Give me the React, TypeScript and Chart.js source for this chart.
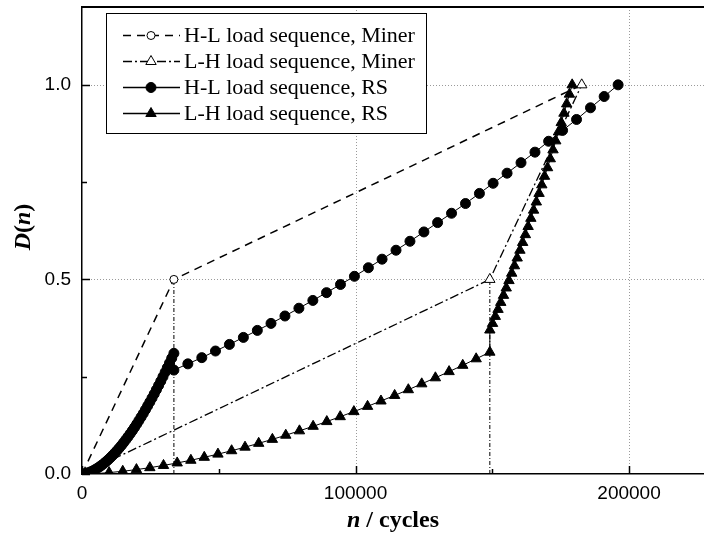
import { useEffect, useRef } from "react";
import { Chart, registerables } from "chart.js";

Chart.register(...registerables);

const SERIES_LABELS = [
  "H-L load sequence, Miner",
  "L-H load sequence, Miner",
  "H-L load sequence, RS",
  "L-H load sequence, RS",
];

// Miner's linear damage rule (both orders reach D = 1 at the same life)
const hlMinerCycles = [0, 33600, 182700];
const hlMinerDamage = [0, 0.5, 1.0];
const lhMinerCycles = [0, 149100, 182700];
const lhMinerDamage = [0, 0.5, 1.0];

// RS model, high load first
const hlRsHighCycles = [
  0, 800, 1600, 2400, 3200, 4000, 4800, 5600, 6400, 7200, 8000, 8800, 9600, 10400, 11200, 12000,
  12800, 13600, 14400, 15200, 16000, 16800, 17600, 18400, 19200, 20000, 20800, 21600, 22400, 23200,
  24000, 24800, 25600, 26400, 27200, 28000, 28800, 29600, 30400, 31200, 32000, 32800, 33600,
];
const hlRsHighDamage = [
  0, 0.0005, 0.0018, 0.0035, 0.0057, 0.0083, 0.0114, 0.0147, 0.0185, 0.0226, 0.027, 0.0318, 0.0368,
  0.0422, 0.0479, 0.0539, 0.0601, 0.0666, 0.0734, 0.0805, 0.0878, 0.0954, 0.1033, 0.1114, 0.1197,
  0.1283, 0.1372, 0.1463, 0.1556, 0.1652, 0.175, 0.185, 0.1952, 0.2057, 0.2165, 0.2274, 0.2385,
  0.2499, 0.2615, 0.2733, 0.2853, 0.2976, 0.31,
];
const hlRsLowCycles = [
  33600, 38700, 43800, 48800, 53900, 59000, 64100, 69100, 74200, 79300, 84400, 89400, 94500, 99600,
  104700, 109700, 114800, 119900, 125000, 130000, 135100, 140200, 145300, 150300, 155400, 160500,
  165600, 170600, 175700, 180800, 185900, 190900, 196000,
];
const hlRsLowDamage = [
  0.267, 0.283, 0.299, 0.316, 0.333, 0.351, 0.369, 0.387, 0.406, 0.426, 0.446, 0.466, 0.487, 0.508,
  0.53, 0.552, 0.575, 0.598, 0.622, 0.646, 0.67, 0.695, 0.721, 0.747, 0.773, 0.8, 0.827, 0.855,
  0.883, 0.911, 0.941, 0.97, 1.0,
];

// RS model, low load first
const lhRsLowCycles = [
  0, 5000, 9900, 14900, 19900, 24800, 29800, 34800, 39800, 44700, 49700, 54700, 59600, 64600, 69600,
  74500, 79500, 84500, 89500, 94400, 99400, 104400, 109300, 114300, 119300, 124200, 129200, 134200,
  139200, 144100, 149100,
];
const lhRsLowDamage = [
  0, 0.001, 0.0036, 0.007, 0.0113, 0.0163, 0.022, 0.0284, 0.0353, 0.0429, 0.0511, 0.0598, 0.069,
  0.0788, 0.089, 0.0997, 0.1109, 0.1226, 0.1347, 0.1473, 0.1603, 0.1738, 0.1876, 0.2019, 0.2166,
  0.2317, 0.2472, 0.2631, 0.2793, 0.296, 0.313,
];
const lhRsHighCycles = [
  149100, 150100, 151100, 152100, 153100, 154100, 155100, 156100, 157100, 158100, 159100, 160100,
  161100, 162100, 163100, 164100, 165100, 166100, 167100, 168100, 169100, 170200, 171200, 172200,
  173200, 174200, 175200, 176200, 177200, 178200, 179200,
];
const lhRsHighDamage = [
  0.37, 0.387, 0.405, 0.423, 0.441, 0.459, 0.478, 0.497, 0.516, 0.535, 0.555, 0.575, 0.595, 0.615,
  0.636, 0.657, 0.678, 0.699, 0.721, 0.743, 0.765, 0.787, 0.81, 0.833, 0.856, 0.879, 0.903, 0.927,
  0.951, 0.976, 1.0,
];

const xTickValues = [0, 100000, 200000];
const yTickValues = [0, 0.5, 1.0];
const xMinorTicks = [50000, 150000];
const yMinorTicks = [0.25, 0.75];
const X_MAX = 227400;
const Y_MAX = 1.2;

const SERIF = "'Liberation Serif', 'Times New Roman', serif";
const SANS = "'Liberation Sans', Arial, Helvetica, sans-serif";

const HL_MINER_DASH = [8, 6];
const LH_MINER_DASH = [9, 3, 2, 3];
const DROP_DASH = [4, 2, 1, 2];

const pts = (xs: number[], ys: number[]) => xs.map((x, i) => ({ x, y: ys[i] }));

type Marker = "openCircle" | "openTriangle" | "circle" | "triangle";
const legendItems: { label: string; dash: number[]; marker: Marker }[] = [
  { label: SERIES_LABELS[0], dash: HL_MINER_DASH, marker: "openCircle" },
  { label: SERIES_LABELS[1], dash: LH_MINER_DASH, marker: "openTriangle" },
  { label: SERIES_LABELS[2], dash: [], marker: "circle" },
  { label: SERIES_LABELS[3], dash: [], marker: "triangle" },
];

function drawMarker(ctx: CanvasRenderingContext2D, m: Marker, x: number, y: number) {
  ctx.save();
  ctx.setLineDash([]);
  ctx.lineWidth = 1;
  ctx.strokeStyle = "#000";
  ctx.fillStyle = m === "circle" || m === "triangle" ? "#000" : "#fff";
  ctx.beginPath();
  if (m === "circle" || m === "openCircle") {
    ctx.arc(x, y, m === "circle" ? 5 : 4, 0, Math.PI * 2);
  } else {
    const r = 6;
    for (let k = 0; k < 3; k++) {
      const a = (k * 2 * Math.PI) / 3;
      const px = x + Math.sin(a) * r;
      const py = y - Math.cos(a) * r;
      if (k === 0) ctx.moveTo(px, py);
      else ctx.lineTo(px, py);
    }
    ctx.closePath();
  }
  ctx.fill();
  ctx.stroke();
  ctx.restore();
}

function drawRich(
  ctx: CanvasRenderingContext2D,
  parts: { t: string; italic: boolean }[],
  cx: number,
  cy: number,
  size: number
) {
  const fontOf = (italic: boolean) => `${italic ? "italic " : ""}bold ${size}px ${SERIF}`;
  let total = 0;
  for (const p of parts) {
    ctx.font = fontOf(p.italic);
    total += ctx.measureText(p.t).width;
  }
  let x = cx - total / 2;
  for (const p of parts) {
    ctx.font = fontOf(p.italic);
    ctx.fillText(p.t, x, cy);
    x += ctx.measureText(p.t).width;
  }
}

const framePlugin = {
  id: "frame",
  // let the plot run all the way to the right edge of the canvas
  afterLayout(chart: any) {
    const a = chart.chartArea;
    const x = chart.scales.x;
    const right = chart.width;
    if (a.right !== right) {
      a.right = right;
      a.width = right - a.left;
      x.right = right;
      x.width = right - x.left;
      x.configure();
    }
  },
  beforeDatasetsDraw(chart: any) {
    const { ctx, chartArea: a, scales } = chart;
    const { x, y } = scales;
    ctx.save();
    ctx.strokeStyle = "#9a9a9a";
    ctx.lineWidth = 1;
    ctx.setLineDash([1, 2]);
    ctx.beginPath();
    for (const v of xTickValues) {
      if (v === 0) continue;
      const px = Math.round(x.getPixelForValue(v)) + 0.5;
      ctx.moveTo(px, a.top);
      ctx.lineTo(px, a.bottom);
    }
    for (const v of yTickValues) {
      if (v === 0) continue;
      const py = Math.round(y.getPixelForValue(v)) + 0.5;
      ctx.moveTo(a.left, py);
      ctx.lineTo(a.right, py);
    }
    ctx.stroke();
    ctx.restore();
  },
  afterDatasetsDraw(chart: any) {
    const { ctx, chartArea: a, scales } = chart;
    const { x, y } = scales;
    ctx.save();
    ctx.strokeStyle = "#000";
    ctx.lineWidth = 1.5;
    ctx.beginPath();
    const xt = (v: number, len: number) => {
      const px = Math.round(x.getPixelForValue(v)) + 0.5;
      ctx.moveTo(px, a.bottom);
      ctx.lineTo(px, a.bottom - len);
    };
    const yt = (v: number, len: number) => {
      const py = Math.round(y.getPixelForValue(v)) + 0.5;
      ctx.moveTo(a.left, py);
      ctx.lineTo(a.left + len, py);
    };
    xTickValues.forEach((v) => xt(v, 8));
    xMinorTicks.forEach((v) => xt(v, 5));
    yTickValues.forEach((v) => yt(v, 8));
    yMinorTicks.forEach((v) => yt(v, 5));
    ctx.stroke();
    // top frame line
    ctx.lineWidth = 2;
    ctx.beginPath();
    ctx.moveTo(a.left, a.top);
    ctx.lineTo(a.right, a.top);
    ctx.stroke();
    ctx.restore();
  },
  afterDraw(chart: any) {
    const { ctx, chartArea: a } = chart;
    ctx.save();
    // legend box
    const bx = 106, by = 13, bw = 320, bh = 120;
    ctx.fillStyle = "#fff";
    ctx.fillRect(bx, by, bw, bh);
    ctx.strokeStyle = "#000";
    ctx.lineWidth = 1;
    ctx.strokeRect(bx + 0.5, by + 0.5, bw, bh);
    const rows = [35, 61, 87, 113];
    legendItems.forEach((it, i) => {
      const ry = rows[i] + 0.5;
      ctx.save();
      ctx.strokeStyle = "#000";
      ctx.lineWidth = it.dash.length ? 1.3 : 1.5;
      ctx.setLineDash(it.dash);
      ctx.beginPath();
      ctx.moveTo(123, ry);
      ctx.lineTo(180, ry);
      ctx.stroke();
      ctx.restore();
      drawMarker(ctx, it.marker, 151, ry);
      ctx.fillStyle = "#000";
      ctx.font = `22px ${SERIF}`;
      ctx.textAlign = "left";
      ctx.textBaseline = "middle";
      ctx.fillText(it.label, 184, rows[i] + 1);
    });
    // axis titles
    ctx.fillStyle = "#000";
    ctx.textAlign = "left";
    ctx.textBaseline = "alphabetic";
    drawRich(
      ctx,
      [
        { t: "n", italic: true },
        { t: " / cycles", italic: false },
      ],
      (a.left + a.right) / 2,
      527,
      24
    );
    ctx.save();
    ctx.translate(24, 227);
    ctx.rotate(-Math.PI / 2);
    ctx.textBaseline = "middle";
    drawRich(
      ctx,
      [
        { t: "D", italic: true },
        { t: "(", italic: false },
        { t: "n", italic: true },
        { t: ")", italic: false },
      ],
      0,
      0,
      24
    );
    ctx.restore();
    ctx.restore();
  },
};

export default function App() {
  const canvasRef = useRef<HTMLCanvasElement | null>(null);

  useEffect(() => {
    const canvas = canvasRef.current;
    if (!canvas) return;

    const lineBase = {
      showLine: true,
      borderColor: "#000",
      backgroundColor: "#000",
      pointBorderColor: "#000",
      pointBorderWidth: 1,
      pointHoverRadius: 0,
    };

    const dropLine = (n: number, d: number) => ({
      ...lineBase,
      label: "",
      data: [
        { x: n, y: 0 },
        { x: n, y: d },
      ],
      borderWidth: 1,
      borderDash: DROP_DASH,
      pointRadius: 0,
      order: 5,
    });

    const chart = new Chart(canvas, {
      type: "scatter",
      data: {
        datasets: [
          {
            ...lineBase,
            label: SERIES_LABELS[3],
            data: pts(lhRsLowCycles.concat(lhRsHighCycles), lhRsLowDamage.concat(lhRsHighDamage)),
            borderWidth: 1,
            pointStyle: "triangle",
            pointRadius: 6,
            order: 1,
          },
          {
            ...lineBase,
            label: SERIES_LABELS[2],
            data: pts(hlRsHighCycles.concat(hlRsLowCycles), hlRsHighDamage.concat(hlRsLowDamage)),
            borderWidth: 1,
            pointStyle: "circle",
            pointRadius: 5,
            order: 2,
          },
          {
            ...lineBase,
            label: SERIES_LABELS[1],
            data: pts(lhMinerCycles, lhMinerDamage),
            borderWidth: 1.3,
            borderDash: LH_MINER_DASH,
            pointStyle: "triangle",
            pointBackgroundColor: "#fff",
            pointRadius: [0, 6, 6],
            order: 3,
          },
          {
            ...lineBase,
            label: SERIES_LABELS[0],
            data: pts(hlMinerCycles, hlMinerDamage),
            borderWidth: 1.5,
            borderDash: HL_MINER_DASH,
            pointStyle: "circle",
            pointBackgroundColor: "#fff",
            pointRadius: [0, 4, 0],
            order: 4,
          },
          dropLine(hlMinerCycles[1], hlMinerDamage[1]),
          dropLine(lhMinerCycles[1], lhMinerDamage[1]),
        ],
      },
      options: {
        animation: false,
        responsive: false,
        devicePixelRatio: 1,
        layout: { padding: { top: 6, right: 0, bottom: 0, left: 0 } },
        plugins: {
          legend: { display: false },
          tooltip: { enabled: false },
        },
        scales: {
          x: {
            type: "linear",
            min: 0,
            max: X_MAX,
            afterFit: (s: any) => {
              s.height = 65;
              s.paddingLeft = 0;
              s.paddingRight = 0;
            },
            afterBuildTicks: (s: any) => {
              s.ticks = xTickValues.map((value) => ({ value }));
            },
            ticks: {
              color: "#000",
              font: { family: SANS, size: 19 },
              padding: 8,
              maxRotation: 0,
              autoSkip: false,
              callback: (v: any) => String(v),
            },
            grid: { display: false, drawTicks: false },
            border: { display: true, color: "#000", width: 1.5 },
          },
          y: {
            type: "linear",
            min: 0,
            max: Y_MAX,
            afterFit: (s: any) => {
              s.width = 82;
              s.paddingTop = 0;
              s.paddingBottom = 0;
            },
            afterBuildTicks: (s: any) => {
              s.ticks = yTickValues.map((value) => ({ value }));
            },
            ticks: {
              color: "#000",
              font: { family: SANS, size: 19 },
              padding: 11,
              autoSkip: false,
              callback: (v: any) => Number(v).toFixed(1),
            },
            grid: { display: false, drawTicks: false },
            border: { display: true, color: "#000", width: 1.5 },
          },
        },
      },
      plugins: [framePlugin],
    });

    return () => chart.destroy();
  }, []);

  return (
    <div style={{ position: "relative", width: 704, height: 539 }}>
      <canvas
        ref={canvasRef}
        width={704}
        height={539}
        style={{ position: "fixed", left: 0, top: 0, width: 704, height: 539 }}
      />
    </div>
  );
}
